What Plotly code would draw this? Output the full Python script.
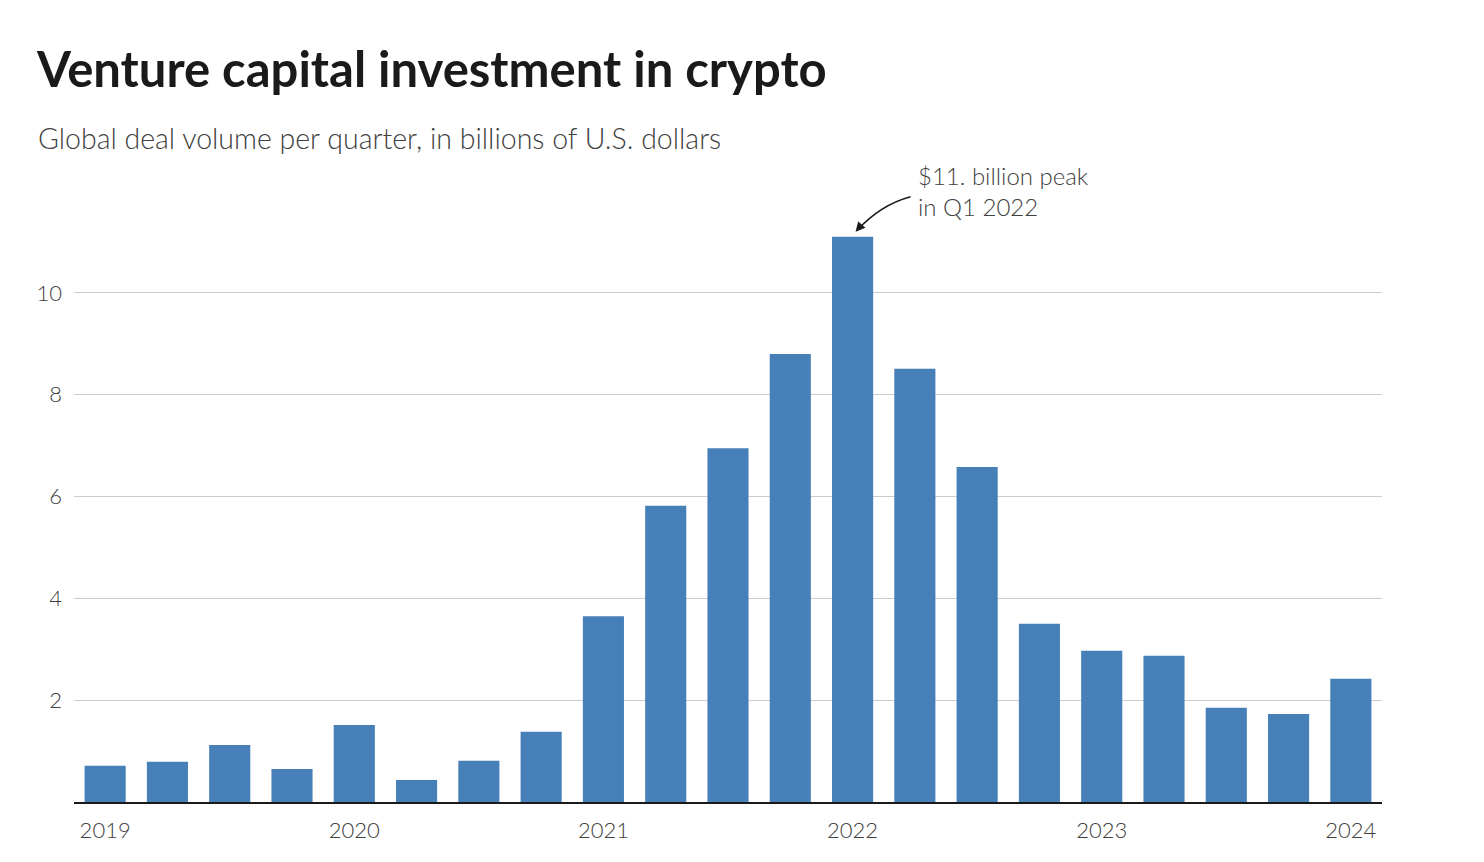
import plotly.graph_objects as go

quarters = [f"Q{q} {y}" for y in range(2019, 2025) for q in range(1, 5)][:21]
values = [0.71, 0.79, 1.12, 0.65, 1.51, 0.43, 0.81, 1.38,
          3.65, 5.82, 6.95, 8.80, 11.1, 8.51, 6.58, 3.50,
          2.97, 2.87, 1.85, 1.73, 2.42]
year_ticks = ["Q1 2019", "Q1 2020", "Q1 2021", "Q1 2022", "Q1 2023", "Q1 2024"]
year_labels = ["2019", "2020", "2021", "2022", "2023", "2024"]
y_ticks = [2, 4, 6, 8, 10]

FONT = "Lato"
W, H = 1484, 862
ML, MR, MT, MB = 74, 102, 191, 60

fig = go.Figure()
fig.add_trace(go.Bar(x=quarters, y=values, marker_color="#4780b9",
                     marker_line_width=0, width=0.66))

peak_idx = values.index(max(values))
peak_q = quarters[peak_idx]

fig.update_layout(
    width=W, height=H,
    margin=dict(l=ML, r=MR, t=MT, b=MB),
    plot_bgcolor="white", paper_bgcolor="white",
    showlegend=False,
    font=dict(family=FONT, color="#404040"),
    title=dict(text="<b>Venture capital investment in crypto</b>",
               font=dict(family=FONT, size=49, color="#1a1a1a"),
               xref="container", yref="container",
               x=37 / W, xanchor="left", y=1 - 70 / H, yanchor="middle"),
    xaxis=dict(type="category", categoryorder="array", categoryarray=quarters,
               range=[-0.5, len(quarters) - 0.5],
               tickmode="array", tickvals=year_ticks, ticktext=year_labels,
               tickfont=dict(size=22, color="#404040", weight=300),
               showgrid=False, showline=True, linecolor="#1a1a1a", linewidth=2,
               ticks="", ticklabelstandoff=8),
    yaxis=dict(range=[0, 12], tickmode="array", tickvals=y_ticks,
               tickfont=dict(size=22, color="#404040", weight=300),
               showgrid=True, gridcolor="#cccccc", gridwidth=1,
               zeroline=False, showline=False, ticks="", ticklabelstandoff=11),
)

fig.add_annotation(text="Global deal volume per quarter, in billions of U.S. dollars",
                   xref="paper", yref="paper",
                   x=(36 - ML) / (W - ML - MR), y=1 + (MT - 138) / (H - MT - MB),
                   xanchor="left", yanchor="middle", showarrow=False,
                   font=dict(family=FONT, size=28.5, color="#404040", weight=300))

fig.add_annotation(text="$11. billion peak<br>in Q1 2022",
                   x=peak_q, y=max(values), xref="x", yref="y",
                   xshift=63, yshift=46, xanchor="left", yanchor="middle",
                   align="left", showarrow=False,
                   font=dict(family=FONT, size=24, color="#404040", weight=300))

# curved arrow line
fig.add_shape(type="path", xref="x", yref="y",
              xsizemode="pixel", ysizemode="pixel",
              xanchor=peak_q, yanchor=max(values),
              path="M 58,40 Q 28,32 4,6",
              line=dict(color="#1a1a1a", width=1.6))
# arrow head
fig.add_annotation(x=peak_q, y=max(values), xref="x", yref="y",
                   xshift=3, yshift=5, text="", showarrow=True,
                   arrowhead=2, arrowsize=1.2, arrowwidth=1.6, arrowcolor="#1a1a1a",
                   ax=6, ay=-7)

fig.write_html("out.html")
